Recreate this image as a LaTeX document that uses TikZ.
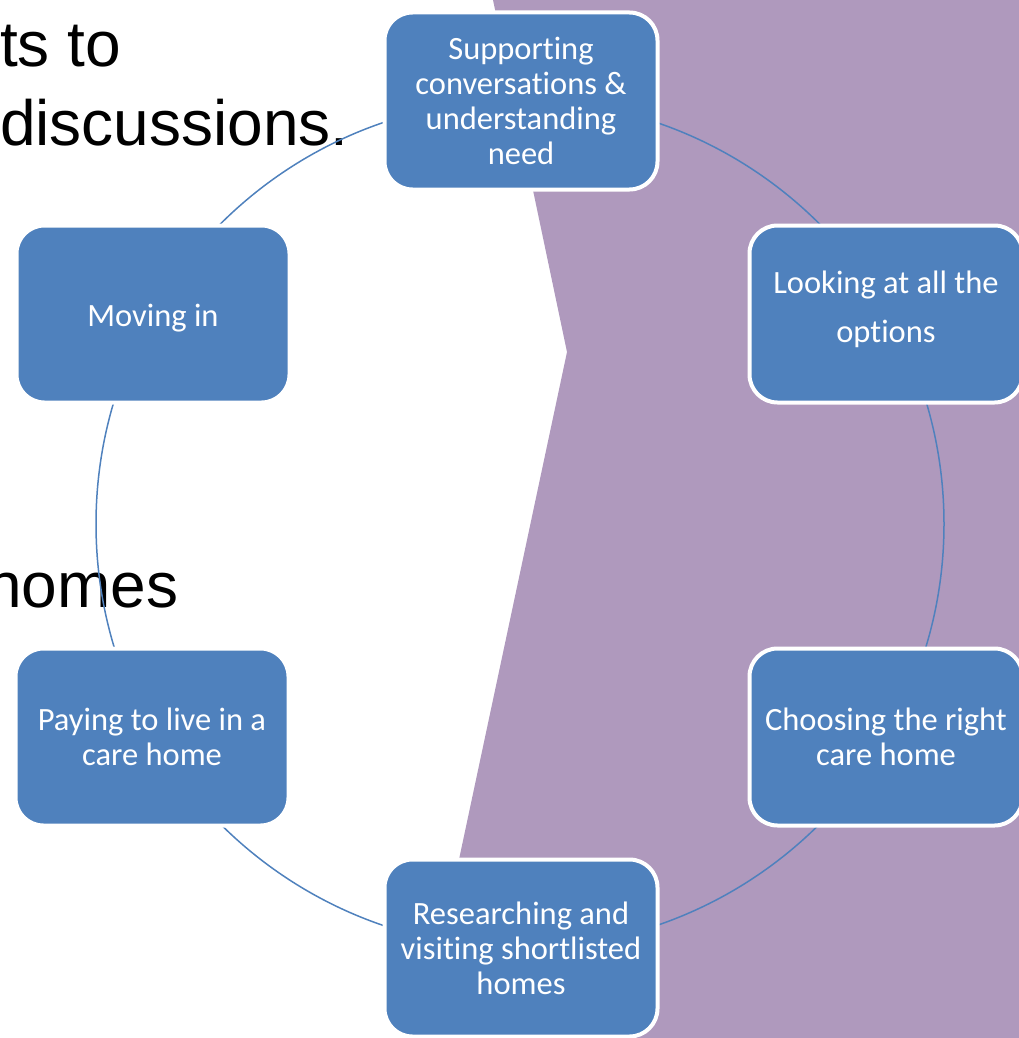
\documentclass[tikz,border=0pt]{standalone}
\usepackage{fontspec}
\setmainfont[Ligatures=NoCommon]{Carlito}
\newfontfamily\arialfont{Liberation Sans}
\definecolor{boxblue}{HTML}{4F81BD}
\definecolor{chev}{HTML}{AF99BD}
\begin{document}
\begin{tikzpicture}[x=1pt,y=-1pt,
  stepbox/.style={draw=white, line width=4pt, fill=boxblue, rounded corners=28pt,
    minimum width=273pt, minimum height=177pt, text=white, align=center,
    font=\fontsize{32.5}{35}\selectfont, inner sep=0pt},
  bgtext/.style={font=\arialfont\fontsize{64}{78}\selectfont, anchor=base west, inner sep=0pt},
  ring/.style={draw=boxblue, line width=1.5pt}]
\useasboundingbox (0,0) rectangle (1019,1038);
\clip (0,0) rectangle (1019,1038);
% chevron background
\fill[chev] (493,0) -- (567,352) -- (421,1038) -- (1019,1038) -- (1019,0) -- cycle;
% background texts
\node[bgtext] (t1) at (0,67) {ts to};
\node[bgtext] (t2) at (0,145) {discussions.};
\node[bgtext] (t3) at (-14,607) {homes};
% ring
\coordinate (ctr) at (520,524);
\draw[ring] (ctr) circle[radius=424pt];
% boxes
\node[stepbox] (s1) at (521,101) {Supporting\\conversations \&\\understanding\\need};
\node[stepbox, font=\fontsize{32.5}{49}\selectfont] (s2) at (886,314) {\raisebox{6pt}[\height][\depth]{\begin{tabular}{@{}c@{}}Looking at all the\\options\end{tabular}}};
\node[stepbox] (s3) at (886,737) {Choosing the right\\care home};
\node[stepbox] (s4) at (521,948) {Researching and\\visiting shortlisted\\homes};
\node[stepbox] (s5) at (152,737) {Paying to live in a\\care home};
\node[stepbox] (s6) at (153,314) {\raisebox{-4pt}[\height][\depth]{Moving in}};
\end{tikzpicture}
\end{document}
